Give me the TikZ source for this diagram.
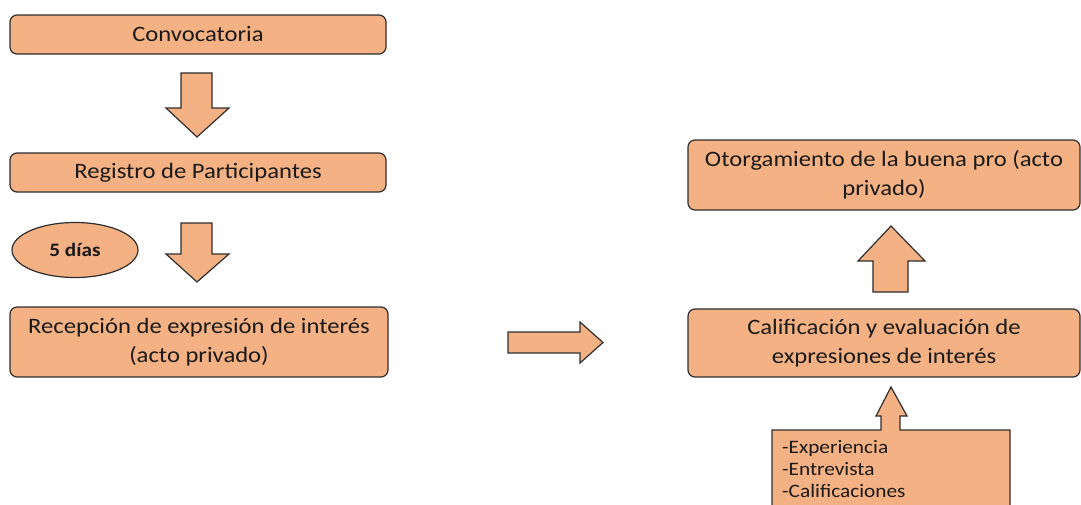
\documentclass[tikz,border=0pt]{standalone}
\usepackage{fontspec}
\setmainfont{Carlito}[FakeStretch=1.12]
\usetikzlibrary{shapes.geometric}
\definecolor{boxfill}{HTML}{F4B183}
\definecolor{boxline}{HTML}{2E2E2E}
\definecolor{txt}{HTML}{1A1A1A}
\begin{document}
\begin{tikzpicture}[x=1pt,y=-1pt,
  stepbox/.style={draw=boxline,fill=boxfill,line width=1.2pt,rounded corners=7pt,
    inner sep=0pt,text=txt,align=center,font=\fontsize{22}{29}\selectfont},
  blockarrow/.style={draw=boxline,fill=boxfill,line width=1.2pt,line join=miter}]
\useasboundingbox (0,0) rectangle (1081,504);
\clip (0,0) rectangle (1081,504);
% boxes
\node[stepbox,minimum width=376pt,minimum height=39pt] (conv) at (198,34.5) {Convocatoria};
\node[stepbox,minimum width=376pt,minimum height=39pt] (reg) at (198,172.5) {Registro de Participantes};
\node[stepbox,minimum width=378pt,minimum height=70pt] (rec) at (199,342) {Recepción de expresión de interés\\(acto privado)};
\node[stepbox,minimum width=392pt,minimum height=70pt] (oto) at (884,175) {Otorgamiento de la buena pro (acto\\privado)};
\node[stepbox,minimum width=392pt,minimum height=68pt] (cal) at (884,343) {Calificación y evaluación de\\expresiones de interés};
\node[ellipse,draw=boxline,fill=boxfill,line width=1.2pt,minimum width=126pt,minimum height=55pt,inner sep=0pt,
  text=txt,font=\fontsize{19}{22}\selectfont\bfseries] (dias) at (75,250) {5 días};
% block arrows
\draw[blockarrow] (181,73) -- (212,73) -- (212,108) -- (229,108) -- (197,137) -- (166,108) -- (181,108) -- cycle;
\draw[blockarrow] (181,223) -- (212,223) -- (212,254) -- (229,254) -- (197,282) -- (166,254) -- (181,254) -- cycle;
\draw[blockarrow] (508,332) -- (580,332) -- (580,322) -- (603,342.5) -- (580,363) -- (580,353) -- (508,353) -- cycle;
\draw[blockarrow] (873,292) -- (873,261) -- (858,261) -- (891,226) -- (925,261) -- (908,261) -- (908,292) -- cycle;
% callout box with up arrow
\draw[blockarrow] (772,520) -- (772,430) -- (881,430) -- (881,416) -- (876,416) -- (891,387)
  -- (907,416) -- (900,416) -- (900,430) -- (1010,430) -- (1010,520);
\node[anchor=north west,inner sep=0pt,align=left,text=txt,font=\fontsize{19}{22}\selectfont] (crit) at (782,440)
  {-Experiencia\\-Entrevista\\-Calificaciones};
\end{tikzpicture}
\end{document}
